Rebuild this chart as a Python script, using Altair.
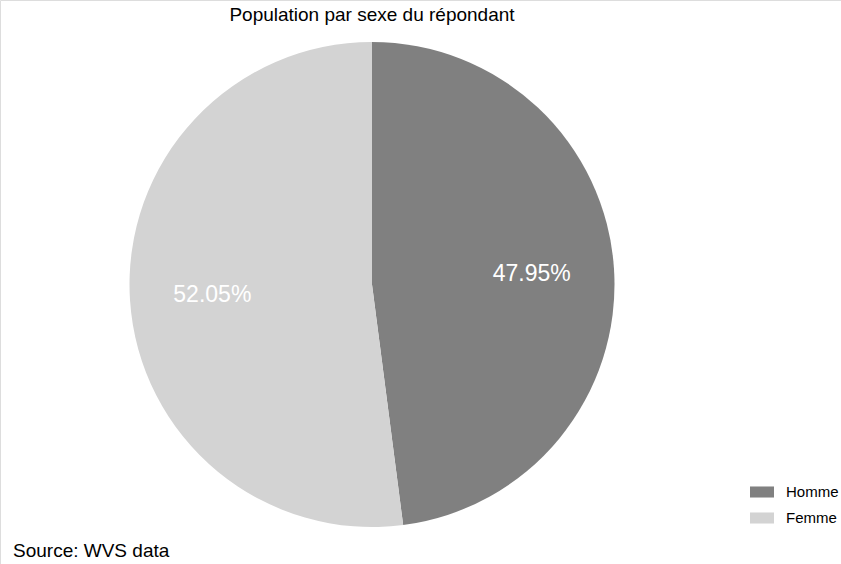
import altair as alt
import pandas as pd

categories = ["Homme", "Femme"]
shares = [47.95, 52.05]
labels = ["47.95%", "52.05%"]
colors = ["#808080", "#d3d3d3"]

title_text = "Population par sexe du répondant"
source_text = "Source: WVS data"

df = pd.DataFrame({"sexe": categories, "part": shares, "label": labels,
                   "ordre": list(range(len(categories)))})

FONT = "Liberation Sans"
CX, CY, R = 372, 284.5, 242.5

base = alt.Chart(df).encode(
    theta=alt.Theta("part:Q", stack=True),
    order=alt.Order("ordre:O"),
    x=alt.value(CX),
    y=alt.value(CY),
)

pie = base.mark_arc(radius=R, stroke=None).encode(
    color=alt.Color(
        "sexe:N",
        scale=alt.Scale(domain=categories, range=colors),
        sort=categories,
        legend=alt.Legend(
            title=None,
            orient="none",
            legendX=750,
            legendY=480,
            symbolType="M-1,-0.46H1V0.46H-1Z",
            symbolSize=576,
            symbolStrokeWidth=0,
            labelFontSize=15,
            labelFont=FONT,
            labelColor="#000000",
            labelOffset=12,
            rowPadding=6,
        ),
    )
)

text = base.mark_text(radius=160, fontSize=23, font=FONT, color="white",
                      align="center", baseline="middle").encode(text="label:N")

title = alt.Chart(pd.DataFrame({"t": [title_text]})).mark_text(
    fontSize=19, font=FONT, color="#000000", align="center", baseline="alphabetic"
).encode(text="t:N", x=alt.value(372), y=alt.value(21))

source = alt.Chart(pd.DataFrame({"t": [source_text]})).mark_text(
    fontSize=19, font=FONT, color="#000000", align="left", baseline="alphabetic"
).encode(text="t:N", x=alt.value(13), y=alt.value(557))

chart = alt.layer(pie, text, title, source).properties(
    width=841, height=564, autosize=alt.AutoSizeParams(type="none"), padding=0
).configure_view(stroke=None).configure(background="white")

chart.save("out.html", embed_options={"renderer": "svg", "actions": False})
